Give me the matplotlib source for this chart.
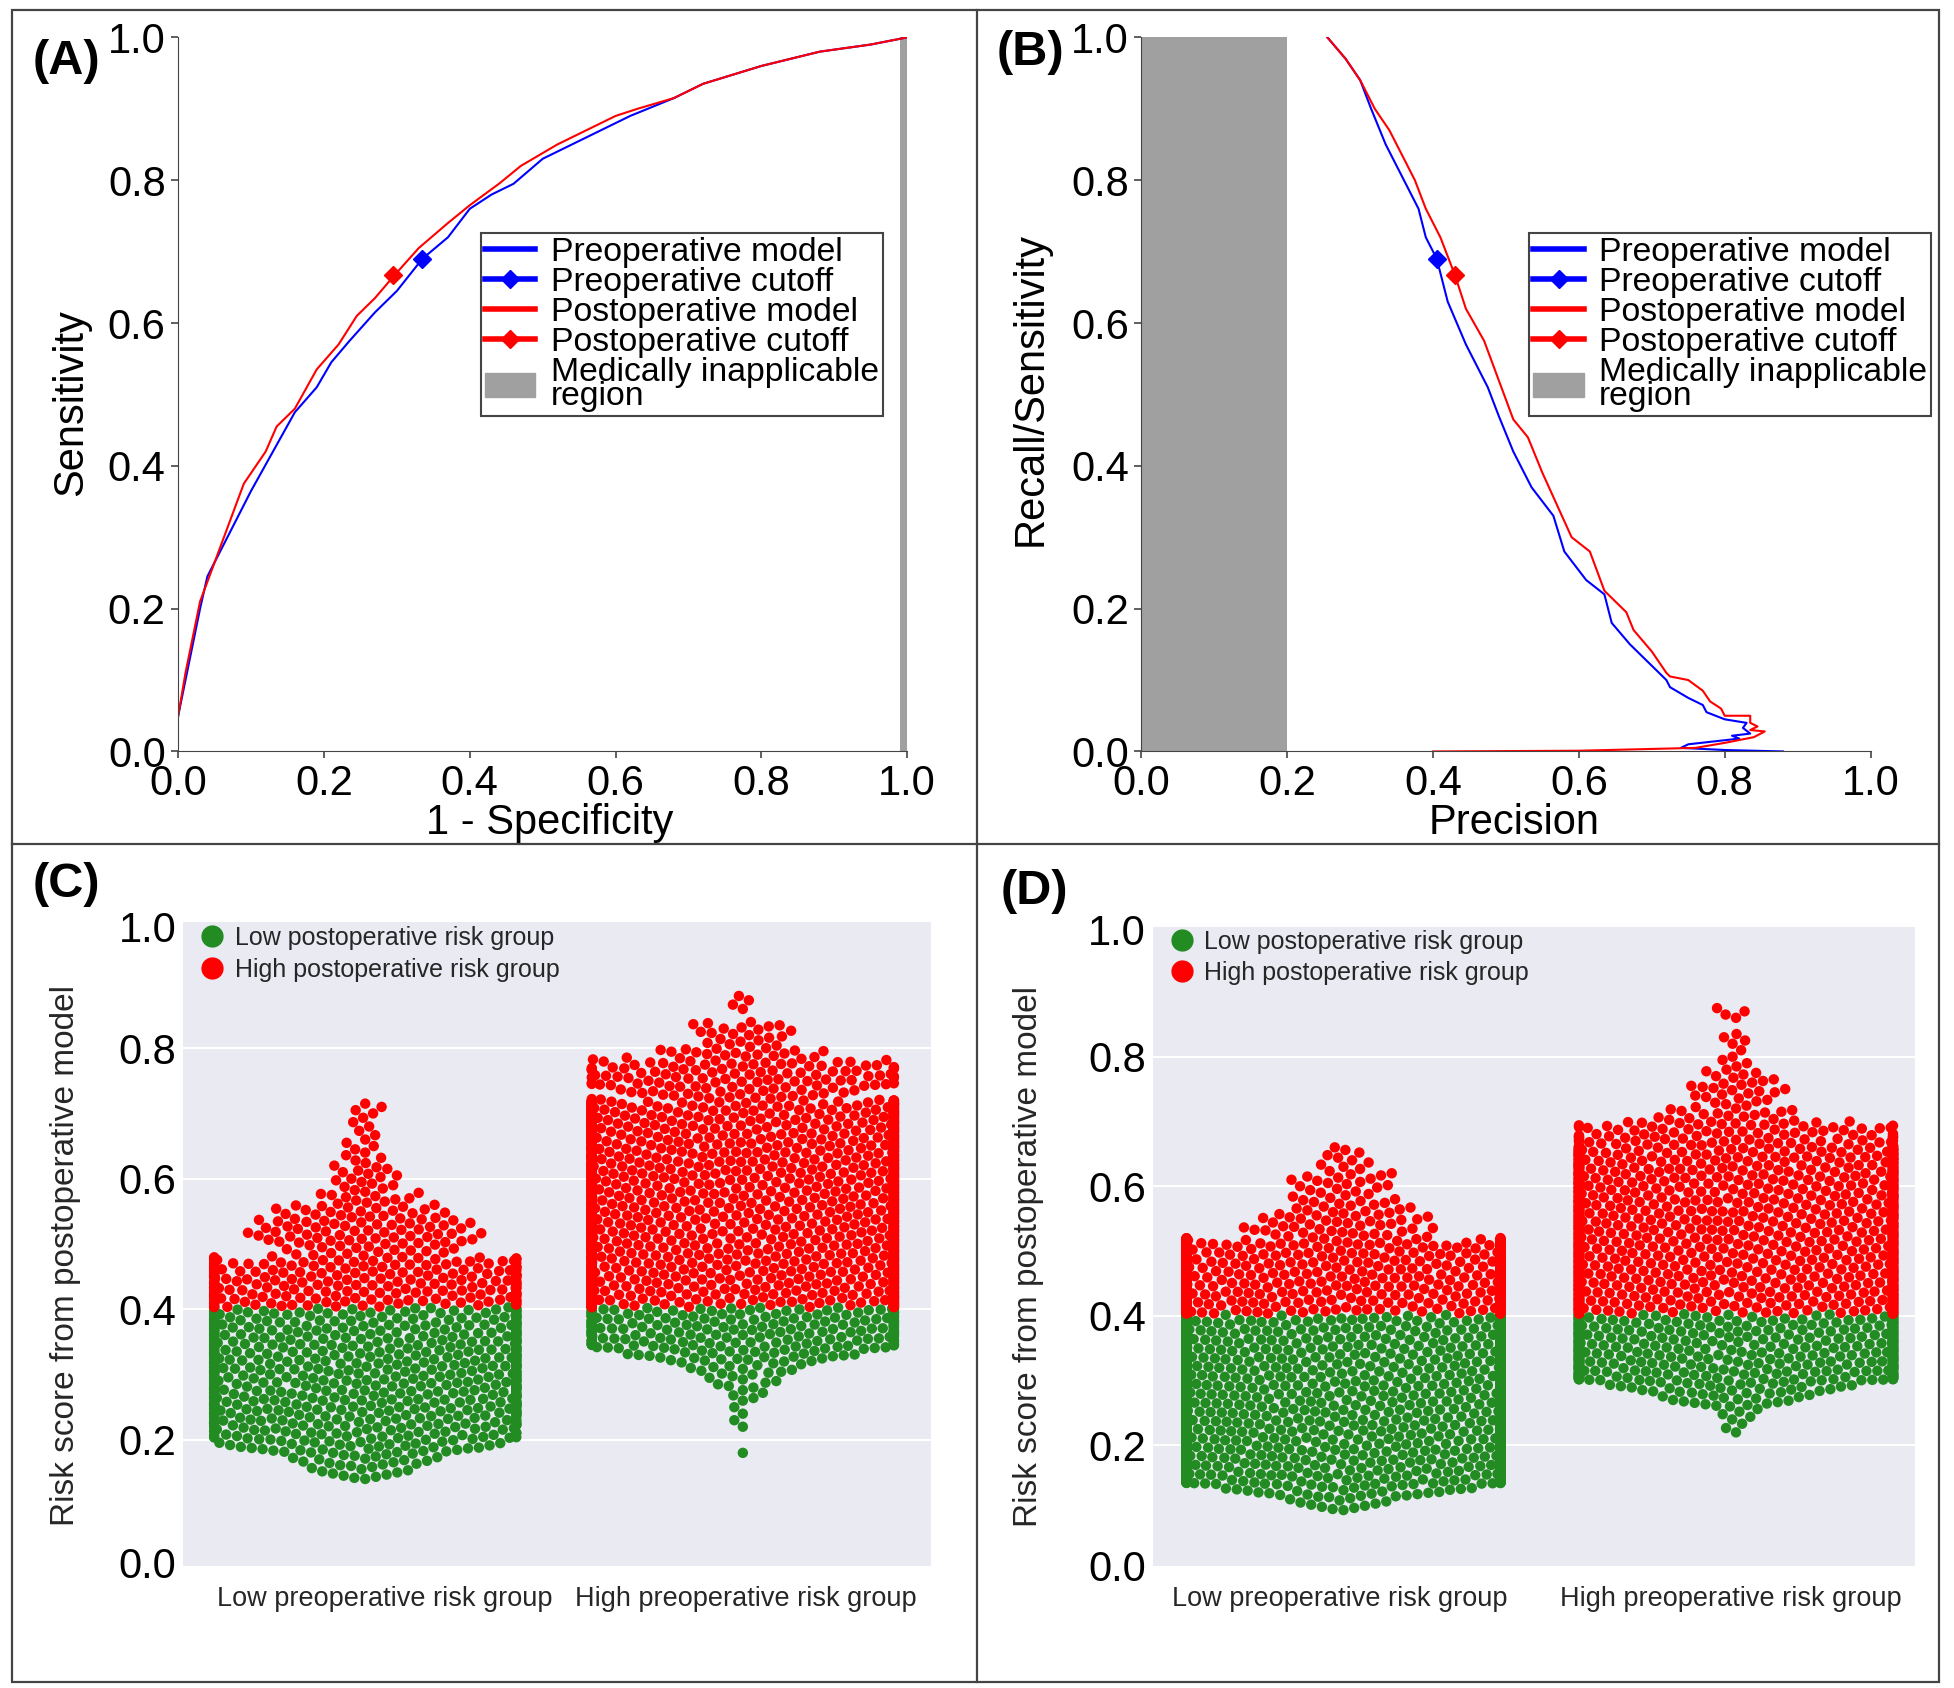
import numpy as np
import matplotlib
matplotlib.use('AGG')
import matplotlib.pyplot as plt
import seaborn as sns
from matplotlib.lines import Line2D
from matplotlib.patches import Patch, Rectangle

plt.rcParams['font.family'] = ['Liberation Sans', 'DejaVu Sans']

W, H = 1954, 1688
BLUE = '#0000ff'
RED = '#ff0000'
GREEN = '#228b22'
GREY = '#a0a0a0'
DARK = '#444444'

# panel A, ROC curves
roc_pre_x = [0, .01, .02, .03, .04, .08, .10, .13, .16, .19, .21, .235, .27, .30, .335, .37, .40, .43, .46, .50, .53, .58, .62, .68, .72, .80, .88, .95, 1]
roc_pre_y = [.05, .10, .15, .20, .245, .325, .365, .42, .475, .51, .545, .575, .615, .645, .69, .72, .76, .78, .795, .83, .845, .87, .89, .915, .935, .96, .98, .99, 1]
roc_post_x = [0, .01, .02, .03, .05, .07, .09, .12, .135, .16, .19, .22, .245, .27, .295, .33, .37, .40, .44, .47, .52, .56, .60, .63, .68, .72, .80, .88, .95, 1]
roc_post_y = [.05, .11, .16, .21, .265, .32, .375, .42, .455, .48, .535, .57, .61, .635, .665, .705, .74, .765, .795, .82, .85, .87, .89, .90, .915, .935, .96, .98, .99, 1]
roc_pre_cut = (.335, .69)
roc_post_cut = (.295, .667)

# panel B, precision recall curves
pr_pre_x = [.255, .28, .30, .315, .335, .36, .38, .39, .405, .42, .445, .475, .49, .51, .535, .565, .58, .61, .635, .645, .67, .70, .72, .725, .75, .76, .77, .775, .80, .83, .825, .835, .81, .82, .75, .74, .80, .88]
pr_pre_y = [1, .97, .94, .90, .85, .80, .76, .72, .69, .63, .57, .51, .47, .42, .37, .33, .28, .24, .22, .18, .15, .12, .10, .09, .075, .07, .065, .055, .045, .04, .033, .025, .022, .018, .01, .005, .002, 0]
pr_post_x = [.255, .28, .30, .32, .34, .355, .375, .39, .41, .43, .445, .47, .49, .51, .53, .55, .57, .59, .615, .635, .665, .675, .70, .72, .725, .75, .77, .78, .795, .80, .835, .835, .845, .835, .855, .84, .80, .76, .60, .40]
pr_post_y = [1, .97, .94, .90, .87, .84, .80, .76, .72, .667, .62, .575, .52, .465, .44, .39, .345, .30, .28, .225, .195, .17, .14, .11, .105, .10, .085, .07, .06, .05, .05, .04, .035, .03, .028, .02, .012, .005, .001, 0]
pr_pre_cut = (.405, .69)
pr_post_cut = (.43, .667)

# swarms: number of patients per 0.02 wide score bin, starting at the given score
c_low_start = .14
c_low_counts = [12, 18, 35, 45, 55, 65, 65, 65, 65, 65, 65, 65, 65, 55, 55, 55, 50, 20, 28, 26, 20, 12, 8, 8, 5, 4, 3, 3, 4]
c_high_start = .18
c_high_counts = [1, 0, 2, 2, 5, 8, 14, 30, 60, 70, 70, 100, 100, 100, 100, 100, 100, 100, 100, 100, 100, 100, 100, 100, 100, 100, 100, 30, 42, 42, 22, 10, 12, 1, 3, 1]
d_low_start = .10
d_low_counts = [12, 30, 115, 115, 115, 115, 115, 115, 115, 115, 115, 115, 115, 115, 115, 85, 85, 85, 85, 85, 85, 22, 20, 14, 10, 12, 6, 5, 1]
d_high_start = .22
d_high_counts = [3, 5, 18, 30, 115, 115, 115, 115, 115, 115, 115, 115, 115, 115, 115, 115, 115, 115, 115, 115, 115, 115, 50, 40, 16, 9, 12, 8, 4, 2, 4, 0, 4]

group_names = ['Low preoperative risk group', 'High preoperative risk group']
risk_names = ['Low postoperative risk group', 'High postoperative risk group']
cut_score = .403


def axes_box(fig, left, top, right, bottom):
    # box in pixels of the shrunk picture, y going down
    k = W / 1568
    return fig.add_axes([left * k / W, 1 - bottom * k / H, (right - left) * k / W, (bottom - top) * k / H])


def expand(start, counts):
    scores = []
    for i, n in enumerate(counts):
        lo = start + .02 * i
        scores.extend(np.linspace(lo, lo + .02, n, endpoint=False))
    return scores


def curve_panel(ax, pre_x, pre_y, post_x, post_y, pre_cut, post_cut, band, xlabel, ylabel, legend_pos, xlabel_pos, ylabel_pos):
    ax.axvspan(band[0], band[1], color=GREY, lw=0)
    ax.plot(pre_x, pre_y, color=BLUE, lw=1.5)
    ax.plot(post_x, post_y, color=RED, lw=1.5)
    ax.plot(*pre_cut, marker='D', color=BLUE, ms=9, ls='none')
    ax.plot(*post_cut, marker='D', color=RED, ms=9, ls='none')
    ax.set_xlim(0, 1)
    ax.set_ylim(0, 1)
    ticks = np.arange(0, 1.01, .2)
    ax.set_xticks(ticks)
    ax.set_yticks(ticks)
    ax.set_xticklabels(['%.1f' % t for t in ticks])
    ax.set_yticklabels(['%.1f' % t for t in ticks])
    ax.tick_params(labelsize=30, length=5, width=1.2, color=DARK, pad=4)
    ax.set_xlabel(xlabel, fontsize=30)
    ax.set_ylabel(ylabel, fontsize=30)
    ax.xaxis.set_label_coords(*xlabel_pos)
    ax.yaxis.set_label_coords(*ylabel_pos)
    ax.spines[['top', 'right']].set_visible(False)
    ax.spines[['left', 'bottom']].set_color(DARK)
    handles = [
        Line2D([], [], color=BLUE, lw=4),
        Line2D([], [], color=BLUE, lw=4, marker='D', ms=9),
        Line2D([], [], color=RED, lw=4),
        Line2D([], [], color=RED, lw=4, marker='D', ms=9),
        Patch(color=GREY),
    ]
    labels = ['Preoperative model', 'Preoperative cutoff', 'Postoperative model',
              'Postoperative cutoff', 'Medically inapplicable\nregion']
    leg = ax.legend(handles, labels, loc='upper left', bbox_to_anchor=legend_pos, borderaxespad=0,
                    fontsize=24.3, fancybox=False, framealpha=1, edgecolor=DARK, labelspacing=-0.03,
                    handlelength=1.5, handletextpad=.45, borderpad=.12)
    leg.get_frame().set_linewidth(1.5)
    for t in leg.get_texts():
        t.set_linespacing(.72)


def swarm_panel(ax, low_start, low_counts, high_start, high_counts, xlim, label_pos, y_ends, end_ticks, ylabel_pos, legend_pos):
    low = expand(low_start, low_counts)
    high = expand(high_start, high_counts)
    scores = np.array(low + high)
    groups = [group_names[0]] * len(low) + [group_names[1]] * len(high)
    risk = np.where(scores < cut_score, risk_names[0], risk_names[1])
    sns.swarmplot(x=groups, y=scores, hue=risk, hue_order=risk_names, order=group_names,
                  palette=[GREEN, RED], size=7.5, legend=False, warn_thresh=1, ax=ax)
    ax.set_facecolor('#e9eaf2')
    ax.set_xlim(*xlim)
    ax.set_ylim(y_ends[0], y_ends[1])
    ax.set_xticks(label_pos)
    ax.set_xticklabels(group_names, fontsize=19.5, color='#262626')
    ax.set_yticks([end_ticks[0], .2, .4, .6, .8, end_ticks[1]])
    ax.set_yticklabels(['0.0', '0.2', '0.4', '0.6', '0.8', '1.0'], fontsize=30)
    ax.tick_params(axis='x', length=0, pad=14)
    ax.tick_params(axis='y', length=0, pad=5)
    ax.set_ylabel('Risk score from postoperative model', fontsize=24, color='#262626')
    ax.yaxis.set_label_coords(*ylabel_pos)
    ax.set_axisbelow(True)
    ax.yaxis.grid(True, color='white', lw=1.5)
    ax.get_ygridlines()[0].set_visible(False)
    ax.get_ygridlines()[-1].set_visible(False)
    ax.spines[:].set_visible(False)
    handles = [Line2D([], [], color=c, marker='o', ms=15, ls='none') for c in (GREEN, RED)]
    ax.legend(handles, risk_names, loc='upper left', bbox_to_anchor=legend_pos, frameon=False, fontsize=18,
              labelcolor='#262626', handlelength=1.0, handletextpad=.4, labelspacing=.3, borderaxespad=0, borderpad=0)


fig = plt.figure(figsize=(W / 100, H / 100), dpi=100)

ax_a = axes_box(fig, 143, 30, 728, 603)
curve_panel(ax_a, roc_pre_x, roc_pre_y, roc_post_x, roc_post_y, roc_pre_cut, roc_post_cut, (.99, 1),
            '1 - Specificity', 'Sensitivity', (.415, .726), (.509, -.072), (-.119, .489))
ax_b = axes_box(fig, 916, 30, 1501, 603)
curve_panel(ax_b, pr_pre_x, pr_pre_y, pr_post_x, pr_post_y, pr_pre_cut, pr_post_cut, (0, .2),
            'Precision', 'Recall/Sensitivity', (.532, .726), (.511, -.072), (-.124, .508))
ax_c = axes_box(fig, 147, 740, 747, 1257)
swarm_panel(ax_c, c_low_start, c_low_counts, c_high_start, c_high_counts, (-.482, 1.498), [.053, 1.007],
            (.006, .993), (.012, .987), (-.137, .482), (.022, .994))
ax_d = axes_box(fig, 925, 744, 1537, 1257)
swarm_panel(ax_d, d_low_start, d_low_counts, d_high_start, d_high_counts, (-.486, 1.457), [-.01, .987],
            (.013, 1.0), (.015, .996), (-.143, .485), (.022, .996))

# panel letters
k = W / 1568
for name, x, y in [('(A)', 26, 49), ('(B)', 800, 42), ('(C)', 26, 710), ('(D)', 803, 715)]:
    fig.text(x * k / W, 1 - y * k / H, name, fontsize=35, fontweight='bold', va='center', ha='left')

# frame around and between the panels
frame = dict(color=DARK, lw=1.6, transform=fig.transFigure)
fig.add_artist(Rectangle((10 * k / W, 1 - 1350 * k / H), 1546 * k / W, 1342 * k / H, fill=False, ec=DARK, lw=1.6,
                         transform=fig.transFigure))
fig.add_artist(Line2D([784 * k / W] * 2, [1 - 1350 * k / H, 1 - 8 * k / H], **frame))
fig.add_artist(Line2D([10 * k / W, 1556 * k / W], [1 - 677 * k / H] * 2, **frame))

plt.savefig('out.png', dpi=100)
